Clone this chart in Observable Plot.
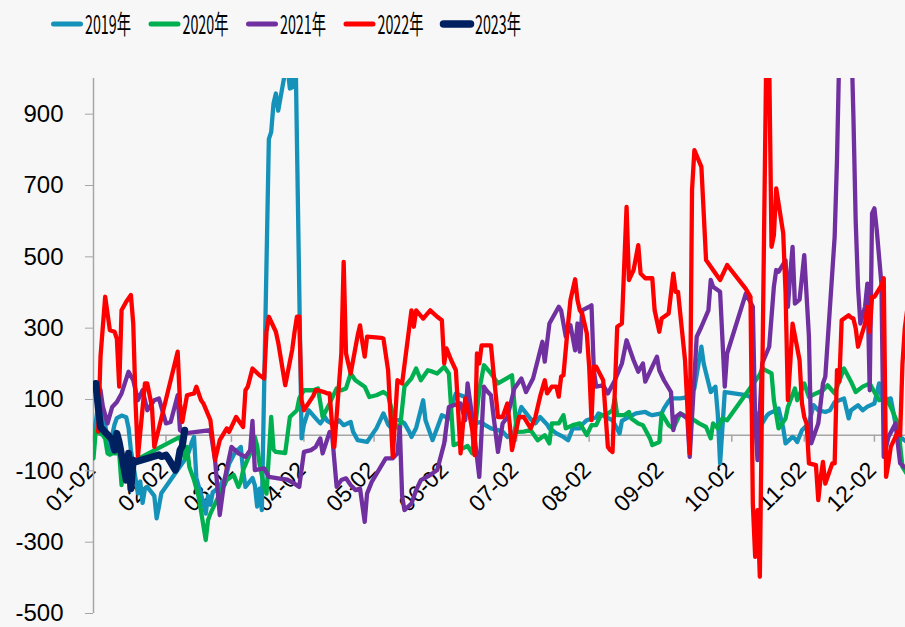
<!DOCTYPE html>
<html>
<head>
<meta charset="utf-8">
<script src="https://cdn.jsdelivr.net/npm/d3@7"></script>
<script src="https://cdn.jsdelivr.net/npm/@observablehq/plot@0.6"></script>
<style>
html, body { margin: 0; padding: 0; background: #f7f7f7; }
#chart { width: 905px; height: 627px; overflow: hidden; background: #f7f7f7; }
svg { display: block; }
</style>
</head>
<body>
<div id="chart"></div>
<script>
// ---------- data ----------
const seriesNames = ["2019年", "2020年", "2021年", "2022年", "2023年"];
const seriesColors = ["#1592b9", "#00b050", "#7030a0", "#ff0000", "#002060"];
const yTicks = [-500, -300, -100, 100, 300, 500, 700, 900];
const xTickLabels = ["01-02","02-02","03-02","04-02","05-02","06-02","07-02","08-02","09-02","10-02","11-02","12-02"];

const dates2019 = [
"01-02","01-03","01-04","01-07","01-08","01-09","01-10","01-11","01-12","01-14",
"01-16","01-17","01-18","01-21","01-22","01-23","01-24","01-25","01-28","01-29",
"01-30","01-31","02-11","02-12","02-13","02-14","02-15","02-18","02-19","02-20",
"02-21","02-22","02-25","02-26","02-27","02-28","03-01","03-04","03-05","03-06",
"03-07","03-08","03-11","03-12","03-13","03-14","03-15","03-18","03-19","03-20",
"03-21","03-22","03-25","03-26","03-27","03-28","03-29","04-01","04-02","04-04",
"04-08","04-09","04-11","04-12","04-15","04-17","04-19","04-22","04-23","04-25",
"04-29","05-03","05-06","05-08","05-09","05-10","05-13","05-15","05-17","05-18",
"05-20","05-23","05-24","05-27","05-29","05-31","06-03","06-04","06-06","06-10",
"06-11","06-13","06-14","06-17","06-18","06-21","06-24","06-26","06-28","07-01",
"07-02","07-04","07-05","07-08","07-10","07-12","07-15","07-16","07-18","07-19",
"07-22","07-24","07-26","07-29","07-30","08-01","08-05","08-06","08-08","08-09",
"08-12","08-15","08-16","08-19","08-22","08-26","08-28","08-29","09-02","09-03",
"09-05","09-06","09-10","09-12","09-16","09-19","09-20","09-23","09-25","09-26",
"09-27","09-29","09-30","10-08","10-10","10-11","10-14","10-15","10-17","10-18",
"10-21","10-22","10-24","10-25","10-28","10-29","10-30","11-01","11-04","11-06",
"11-08","11-11","11-13","11-15","11-19","11-21","11-22","11-25","11-27","11-29",
"12-02","12-04","12-05","12-06","12-09","12-11","12-13","12-16"];
const values2019 = [
0,40,80,30,-20,-42,0,30,48,55,
50,20,-42,-163,-130,-190,-150,-145,-170,-233,
-200,-163,-60,-42,-20,-5,-120,-190,-220,-170,
-195,-160,-145,-130,-140,-107,-80,-42,-40,-33,
-100,-145,-120,-140,-200,-150,-210,830,850,930,
958,910,1020,1030,972,975,1250,-9,30,70,
40,33,51,40,28,42,28,37,10,-14,
-19,19,61,30,23,42,42,33,10,-5,
20,98,42,-14,20,56,47,80,117,107,
70,50,33,37,30,19,14,10,-5,10,
40,79,70,45,33,51,30,19,10,5,
-5,-14,19,19,30,42,50,61,55,51,
42,5,40,51,61,65,58,56,61,75,
95,103,103,105,131,248,200,121,136,60,
-79,121,120,112,107,80,40,33,55,61,
70,75,20,-23,-5,-10,-19,14,33,84,
70,65,70,93,103,47,70,84,70,80,
89,145,110,98,103,33,-5,-20];

const dates2020 = [
"01-02","01-03","01-06","01-07","01-08","01-09","01-10","01-13","01-14","01-15",
"01-16","01-17","01-20","02-08","02-10","02-11","02-12","02-14","02-16","02-19",
"02-20","02-21","02-23","02-25","02-28","03-03","03-05","03-06","03-07","03-10",
"03-12","03-13","03-14","03-16","03-17","03-19","03-20","03-21","03-25","03-27",
"03-30","03-31","04-02","04-06","04-08","04-10","04-13","04-16","04-18","04-20",
"04-22","04-24","04-28","04-30","05-03","05-06","05-08","05-11","05-13","05-15",
"05-18","05-20","05-22","05-25","05-27","05-29","06-01","06-03","06-05","06-07",
"06-09","06-11","06-13","06-16","06-18","06-21","06-24","06-30","07-02","07-05",
"07-08","07-11","07-14","07-16","07-17","07-20","07-22","07-23","07-26","07-29",
"08-01","08-03","08-05","08-07","08-09","08-12","08-13","08-14","08-17","08-19",
"08-20","08-23","08-25","08-28","08-29","09-01","09-02","09-05","09-07","09-10",
"09-13","09-16","09-18","09-21","09-23","09-24","09-26","09-28","09-30","10-14",
"10-15","10-19","10-20","10-22","10-25","10-26","10-29","10-30","11-02","11-04",
"11-07","11-10","11-12","11-15","11-19","11-22","11-24","11-27","11-30","12-02",
"12-04","12-07","12-09","12-12","12-14","12-16"];
const values2020 = [
-65,14,0,-10,-51,-55,-51,-51,-140,-70,
-65,-75,-70,-5,-65,-33,-89,-126,-173,-294,
-238,-220,-192,-164,-126,-112,-145,-130,-98,-51,
-5,-30,-80,-145,-164,51,-40,-47,-50,51,
70,103,126,126,131,51,89,131,126,131,
173,154,136,107,112,121,112,33,14,136,
159,187,154,182,178,173,192,173,-28,-23,
-37,-30,-51,126,196,173,145,168,9,10,
14,-14,0,-23,33,33,56,19,28,33,
0,28,28,56,56,70,103,56,56,65,
47,33,28,-9,-28,-19,61,28,19,61,
51,42,33,23,-9,33,19,47,42,170,
187,173,98,19,47,79,131,98,145,107,
117,126,140,117,187,150,121,136,145,121,
98,103,79,33,-89,-110];

const dates2021 = [
"01-04","01-05","01-06","01-08","01-10","01-12","01-14","01-17","01-19","01-21",
"01-23","01-25","01-28","01-30","02-02","02-04","02-07","02-08","02-10","02-21",
"02-23","02-25","02-27","03-02","03-05","03-08","03-10","03-11","03-12","03-16",
"03-18","03-22","03-26","03-29","03-31","04-02","04-05","04-07","04-09","04-10",
"04-13","04-14","04-16","04-18","04-20","04-22","04-24","04-26","04-28","04-29",
"05-01","05-04","05-07","05-10","05-12","05-13","05-14","05-15","05-18","05-20",
"05-22","05-26","05-29","06-01","06-03","06-05","06-08","06-10","06-11","06-13",
"06-16","06-18","06-19","06-21","06-24","06-26","06-28","07-01","07-04","07-06",
"07-09","07-11","07-13","07-14","07-16","07-20","07-21","07-23","07-25","07-27",
"07-28","07-29","07-30","08-02","08-03","08-04","08-05","08-08","08-10","08-13",
"08-16","08-18","08-21","08-23","08-25","08-26","08-29","08-31","09-01","09-03",
"09-06","09-07","09-08","09-10","09-13","09-14","09-17","09-19","09-22","09-23",
"09-24","09-27","09-29","09-30","10-08","10-11","10-12","10-13","10-15","10-18",
"10-20","10-21","10-22","10-25","10-26","10-27","10-28","10-29","10-31","11-02",
"11-04","11-05","11-08","11-10","11-11","11-15","11-16","11-17","11-18","11-19",
"11-22","11-23","11-24","11-25","11-26","11-28","11-29","11-30","12-01","12-02",
"12-03","12-05","12-06","12-08","12-11","12-13","12-15"];
const values2021 = [
140,126,80,33,79,93,117,178,154,98,
126,70,98,103,33,37,112,14,5,14,
-70,-224,-126,-33,-51,-61,-42,40,-98,-93,
-117,-121,-125,-136,-145,-47,-42,-33,-9,-51,
9,5,-145,-126,-121,-140,-154,-150,-243,-164,
-131,-98,-65,-65,-51,23,-170,-210,-192,-154,
-126,-112,-98,-23,79,84,89,42,145,51,
-117,136,126,112,-47,33,51,131,159,121,
159,210,262,206,313,360,350,276,308,238,
313,234,350,360,364,182,136,140,117,154,
201,266,210,178,201,150,192,220,182,154,
121,14,51,61,47,-61,276,304,350,435,
416,402,136,229,397,360,42,-70,201,248,
416,463,458,490,360,450,528,369,380,505,
276,-23,33,145,164,556,771,1080,1250,1200,
1150,900,600,416,313,360,425,126,622,636,
575,425,-61,-5,33,-79,-90];

const dates2022 = [
"01-04","01-05","01-07","01-09","01-11","01-12","01-13","01-14","01-16","01-18",
"01-19","01-20","01-21","01-24","01-25","01-27","01-28","02-07","02-08","02-09",
"02-11","02-14","02-15","02-17","02-18","02-21","02-23","02-25","02-28","03-01",
"03-04","03-07","03-08","03-09","03-11","03-14","03-16","03-17","03-18","03-21",
"03-22","03-24","03-25","03-28","03-29","03-30","03-31","04-01","04-02","04-06",
"04-07","04-08","04-11","04-12","04-13","04-14","04-15","04-18","04-19","04-20",
"04-21","04-22","04-25","04-26","04-27","04-28","04-29","05-05","05-06","05-08",
"05-10","05-12","05-14","05-16","05-18","05-19","05-20","05-23","05-26","05-29",
"05-31","06-01","06-02","06-04","06-06","06-08","06-10","06-12","06-13","06-14",
"06-15","06-16","06-17","06-20","06-21","06-22","06-24","06-26","06-28","06-29",
"06-30","07-03","07-05","07-08","07-10","07-12","07-14","07-15","07-17","07-19",
"07-20","07-21","07-22","07-24","07-25","07-27","07-28","07-29","07-30","08-01",
"08-02","08-03","08-04","08-05","08-08","08-10","08-11","08-12","08-14","08-16",
"08-18","08-19","08-21","08-23","08-24","08-26","08-29","08-30","09-01","09-02",
"09-05","09-07","09-08","09-09","09-12","09-14","09-15","09-16","09-19","09-21",
"09-27","09-30","10-08","10-10","10-11","10-12","10-13","10-14","10-17","10-18",
"10-19","10-20","10-21","10-24","10-25","10-26","10-27","10-28","10-31","11-01",
"11-02","11-03","11-04","11-07","11-08","11-09","11-10","11-11","11-14","11-15",
"11-16","11-17","11-18","11-21","11-22","11-23","11-24","11-25","11-28","11-29",
"11-30","12-01","12-02","12-05","12-06","12-07","12-08","12-09","12-12","12-13",
"12-14","12-15","12-16"];
const values2022 = [
10,220,388,294,290,270,136,350,374,393,
313,89,-61,145,145,79,-33,234,89,37,
112,117,136,98,89,42,-70,-14,19,9,
51,23,126,136,187,168,159,290,332,290,
260,180,140,240,290,332,332,98,70,110,
126,126,120,117,117,33,-33,229,486,229,
200,173,280,308,260,220,276,273,271,182,
-61,154,145,248,350,304,350,327,350,332,
322,201,243,210,182,-51,103,51,14,-56,
229,201,252,252,252,182,51,51,89,33,
-42,51,51,19,51,108,154,117,136,136,
108,164,168,313,379,437,379,350,341,285,
192,42,192,192,154,-33,-42,-47,304,313,
640,435,463,533,453,440,440,350,290,327,
341,453,402,402,210,-51,687,799,752,491,
435,477,410,388,-192,-341,-210,-397,1200,1050,
528,560,692,566,400,98,200,313,210,90,
51,33,-79,-84,-182,-120,-75,-136,-79,-79,
182,150,322,336,330,327,300,248,313,360,
290,388,388,420,440,-117,-80,-33,9,0,
200,300,350];

const dates2023 = [
"01-03","01-04","01-05","01-06","01-09","01-10","01-11","01-12","01-13","01-16",
"01-17","01-18","01-19","01-20","01-30","01-31","02-01","02-02","02-03","02-06",
"02-07","02-08","02-09","02-10"];
const values2023 = [
145,80,23,15,-5,-14,-42,5,-20,-126,
-51,-150,-70,-75,-55,-60,-58,-56,-65,-98,
-80,-42,-30,14];

// ---------- build ----------
const toDate = s => new Date(Date.UTC(2001, +s.slice(0, 2) - 1, +s.slice(3, 5)));
const allDates = [dates2019, dates2020, dates2021, dates2022, dates2023];
const allValues = [values2019, values2020, values2021, values2022, values2023];
const lineWidths = [4.3, 4.3, 4.3, 4.3, 7];

const series = seriesNames.map((name, k) => ({
  name,
  color: seriesColors[k],
  width: lineWidths[k],
  rows: allDates[k].map((d, i) => ({date: toDate(d), value: allValues[k][i]}))
}));

const xStart = toDate("01-02");
const xEnd = new Date(+xStart + 347.3 * 864e5);
const xTicks = xTickLabels.map(s => ({date: toDate(s), label: s}));
const axisGray = "#a6a6a6";

// ---------- legend ----------
const root = d3.select("#chart");
const legend = root.append("svg").attr("width", 905).attr("height", 45)
  .style("background", "#f7f7f7");
seriesNames.forEach((name, k) => {
  const x0 = 51 + k * 97.5;
  legend.append("line")
    .attr("x1", x0 + 2.5).attr("x2", x0 + 29.5).attr("y1", 24).attr("y2", 24)
    .attr("stroke", seriesColors[k]).attr("stroke-width", k === 4 ? 7.5 : 5)
    .attr("stroke-linecap", "round");
  const t = legend.append("text").text(name)
    .attr("x", 0).attr("y", 0)
    .attr("font-family", "'Noto Sans CJK SC', sans-serif").attr("font-size", 26)
    .attr("fill", "#000");
  const w = t.node().getComputedTextLength() || 80;
  t.attr("transform", `translate(${x0 + 34},34) scale(${46 / w},1)`);
});

// ---------- chart ----------
const chart = Plot.plot({
  width: 905,
  height: 582,
  marginTop: 33,
  marginBottom: 14,
  marginLeft: 93,
  marginRight: 0,
  style: {background: "#f7f7f7", fontFamily: "'Liberation Sans', Arial, sans-serif", color: "#000"},
  x: {type: "utc", domain: [xStart, xEnd], axis: null},
  y: {domain: [-500, 1000]},
  marks: [
    Plot.ruleY([0], {stroke: axisGray, strokeWidth: 1.5}),
    Plot.ruleX(xTicks, {x: "date", y1: 0, y2: -20, stroke: axisGray, strokeWidth: 1.5}),
    Plot.text(xTicks, {
      x: "date", y: 0, text: "label", rotate: -45, textAnchor: "end",
      dx: -2, dy: 31, fontSize: 23, fill: "#000"
    }),
    Plot.ruleX([xStart], {y1: -500, y2: 1000, stroke: axisGray, strokeWidth: 1.5}),
    Plot.axisY(yTicks, {
      tickSize: 8, tickPadding: 22, fontSize: 24, stroke: axisGray, fill: "#000",
      tickFormat: d => String(d), label: null
    }),
    ...series.map(s => Plot.line(s.rows, {
      x: "date", y: "value", stroke: s.color, strokeWidth: s.width,
      strokeLinejoin: "round", strokeLinecap: "round", clip: true
    }))
  ]
});
root.node().appendChild(chart);
</script>
</body>
</html>
